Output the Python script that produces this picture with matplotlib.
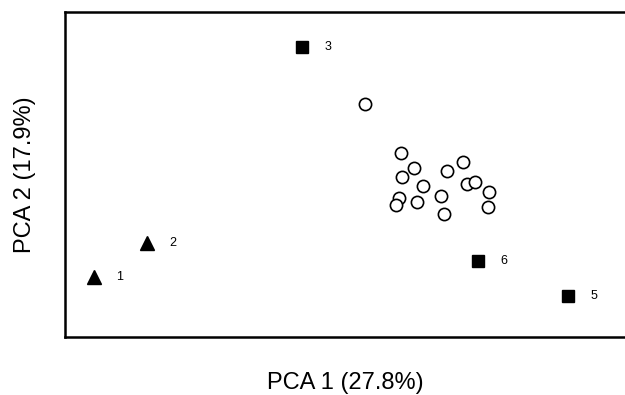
import numpy as np
import matplotlib.pyplot as plt

plt.rcParams['font.family'] = ['Liberation Sans', 'DejaVu Sans']

# Scores (arbitrary units)
circ_x = [5.36, 6.00, 6.24, 6.02, 6.39, 5.97, 5.91, 6.29, 6.71, 6.77, 6.83, 7.11, 7.17, 7.33, 7.57, 7.55]
circ_y = [4.29, 3.39, 3.11, 2.95, 2.79, 2.56, 2.43, 2.49, 2.60, 2.26, 3.06, 3.23, 2.82, 2.86, 2.68, 2.39]

sq_x = [4.23, 7.37, 8.98]
sq_y = [5.35, 1.40, 0.76]
sq_lab = ['3', '6', '5']

tri_x = [0.51, 1.46]
tri_y = [1.11, 1.73]
tri_lab = ['1', '2']

fig = plt.figure(figsize=(6.25, 3.95), dpi=100)
ax = fig.add_axes([0.104, 0.147, 0.896, 0.823])

ax.plot(circ_x, circ_y, 'o', ms=8.8, mfc='white', mec='black', mew=1.2, ls='none')
ax.plot(sq_x, sq_y, 's', ms=8, color='black', ls='none')
ax.plot(tri_x, tri_y, '^', ms=9.5, color='black', ls='none')

for x, y, t in zip(sq_x + tri_x, sq_y + tri_y, sq_lab + tri_lab):
    ax.annotate(t, (x, y), xytext=(16, 0), textcoords='offset points',
                ha='left', va='center', fontsize=9)

ax.set_xlim(0, 10)
ax.set_ylim(0, 6)
ax.set_xticks([])
ax.set_yticks([])
ax.spines['right'].set_visible(False)
for s in ['left', 'bottom', 'top']:
    ax.spines[s].set_linewidth(1.8)

ax.set_xlabel('PCA 1 (27.8%)', fontsize=17, labelpad=25)
ax.set_ylabel('PCA 2 (17.9%)', fontsize=17, labelpad=21)

fig.savefig('out.png', dpi=100)
